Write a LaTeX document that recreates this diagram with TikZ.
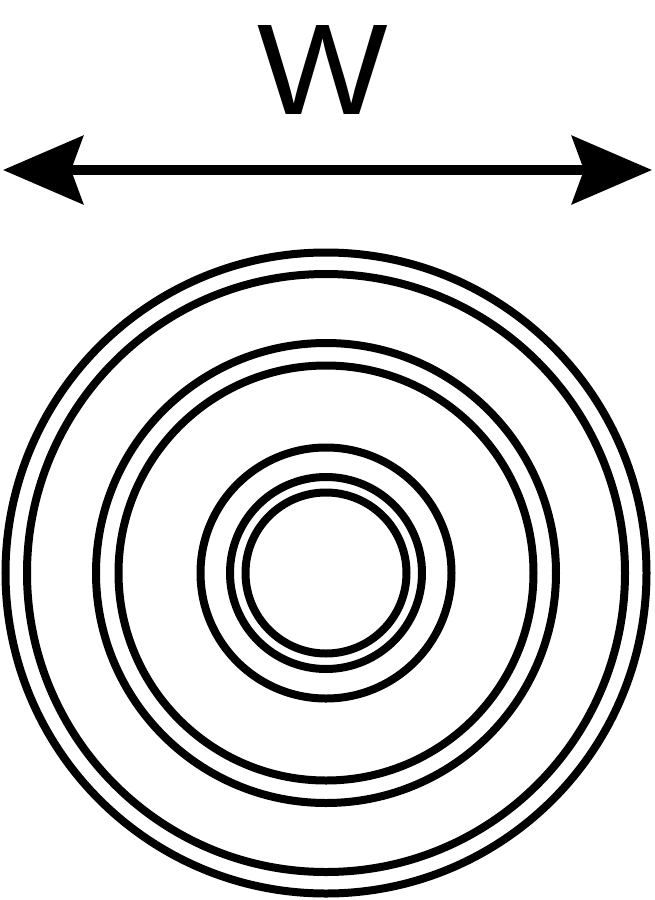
\documentclass[tikz,border=0pt]{standalone}
\usepackage{fontspec}
\setmainfont{Liberation Sans}
\usetikzlibrary{arrows.meta}

\tikzset{ring/.style={line width=6pt}}

\begin{document}
\begin{tikzpicture}[x=0.75pt,y=0.75pt,yscale=-1,xscale=1]
%set diagram left start at 0, and has height of 900
\useasboundingbox (0,0) rectangle (655,900);

%Coordinates [id:center]
\coordinate (hub) at (326,573);
\coordinate (wleft) at (3,170);
\coordinate (wright) at (652,170);

%Shape: Circle [id:ring1]
\draw [ring] (hub) circle [radius=320.5];
%Shape: Circle [id:ring2]
\draw [ring] (hub) circle [radius=299];
%Shape: Circle [id:ring3]
\draw [ring] (hub) circle [radius=230];
%Shape: Circle [id:ring4]
\draw [ring] (hub) circle [radius=207.5];
%Shape: Circle [id:ring5]
\draw [ring] (hub) circle [radius=125.5];
%Shape: Circle [id:ring6]
\draw [ring] (hub) circle [radius=96];
%Shape: Circle [id:ring7]
\draw [ring] (hub) circle [radius=80.5];

%Straight Lines [id:width]
\draw [line width=7pt,{Stealth[length=60pt,width=51pt,inset=9pt]}-{Stealth[length=60pt,width=51pt,inset=9pt]}] (wleft) -- (wright) ;

% Text Node
\draw (323,70.5) node [inner sep=0pt,xscale=1.07,font=\fontsize{97}{100}\selectfont] (wlabel) {W};

\end{tikzpicture}
\end{document}
